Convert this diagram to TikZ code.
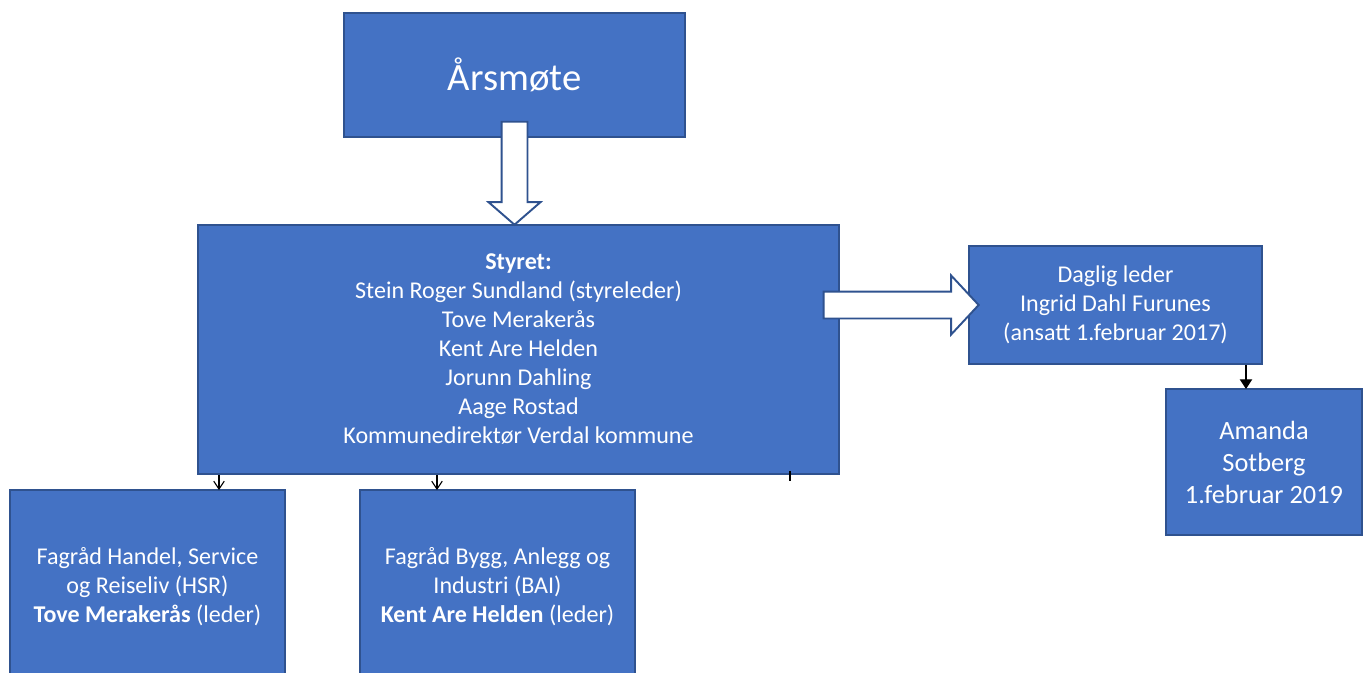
\documentclass[tikz,border=0pt]{standalone}
\usepackage{fontspec}
\setmainfont{Carlito}
\usepackage{xcolor}
\usepackage{tikz}
\usetikzlibrary{shapes, arrows.meta, positioning}
\definecolor{boxblue}{HTML}{4472C4}
\definecolor{boxline}{HTML}{2F528F}

\begin{document}
\begin{tikzpicture}[x=0.02cm, y=-0.02cm,
    boks/.style={draw=boxline, line width=0.9pt, rectangle, fill=boxblue, text=white,
        align=center, font=\fontsize{13.7}{16.5}\selectfont},
    hulpil/.style={single arrow, draw=boxline, line width=1.1pt, fill=white,
        single arrow head indent=0pt},
    tynnpil/.style={-{Straight Barb[length=4.5pt, width=6pt]}, line width=0.6pt}]
    \useasboundingbox (0,0) rectangle (1363,673);
    \clip (0,0) rectangle (1363,673);

    \node[boks, minimum width=6.82cm, minimum height=2.48cm, font=\fontsize{22}{26}\selectfont] (aarsmote) at (514.5,75) {Årsmøte};
    \node[boks, minimum width=12.82cm, minimum height=4.98cm] (styret) at (518.5,349.5) {
        \textbf{Styret:}\\
        Stein Roger Sundland (styreleder)\\
        Tove Merakerås\\
        Kent Are Helden\\
        Jorunn Dahling\\
        Aage Rostad\\
        Kommunedirektør Verdal kommune
    };
    \node[boks, minimum width=5.86cm, minimum height=2.36cm] (daglig) at (1115.5,305) {
        Daglig leder\\
        Ingrid Dahl Furunes\\
        (ansatt 1.februar 2017)
    };
    \node[boks, minimum width=3.92cm, minimum height=2.92cm, font=\fontsize{15}{18.2}\selectfont] (amanda) at (1264,462) {
        Amanda\\
        Sotberg\\
        1.februar 2019
    };
    \node[boks, minimum width=5.5cm, minimum height=3.88cm] (hsr) at (147.5,587) {
        Fagråd Handel, Service\\
        og Reiseliv (HSR)\\
        \textbf{Tove Merakerås} (leder)
    };
    \node[boks, minimum width=5.5cm, minimum height=3.88cm] (bai) at (497.5,587) {
        Fagråd Bygg, Anlegg og\\
        Industri (BAI)\\
        \textbf{Kent Are Helden} (leder)
    };

    % hule piler
    \node[hulpil, rotate=-90, inner sep=0.24cm, minimum height=2.06cm,
        single arrow head extend=0.26cm, single arrow tip angle=98,
        anchor=tail] (pilned) at ([yshift=0.34cm]aarsmote.south) {};
    \node[hulpil, inner sep=0.25cm, minimum height=3.1cm,
        single arrow head extend=0.32cm, single arrow tip angle=94,
        anchor=tail] (pilhoyre) at ([xshift=-0.34cm]styret.east |- daglig.west) {};

    % tynne piler
    \coordinate (hsrinn) at (219,490);
    \coordinate (baiinn) at (437,490);
    \coordinate (stump) at (790,481);
    \coordinate (amandainn) at (1246,389);
    \draw[tynnpil] (hsrinn |- styret.south) -- (hsrinn);
    \draw[tynnpil] (baiinn |- styret.south) -- (baiinn);
    \draw[line width=0.6pt] ([yshift=0.08cm]stump |- styret.south) -- (stump);
    \draw[-{Triangle[length=5.5pt, width=7pt]}, line width=0.6pt] (amandainn |- daglig.south) -- (amandainn);
\end{tikzpicture}
\end{document}
